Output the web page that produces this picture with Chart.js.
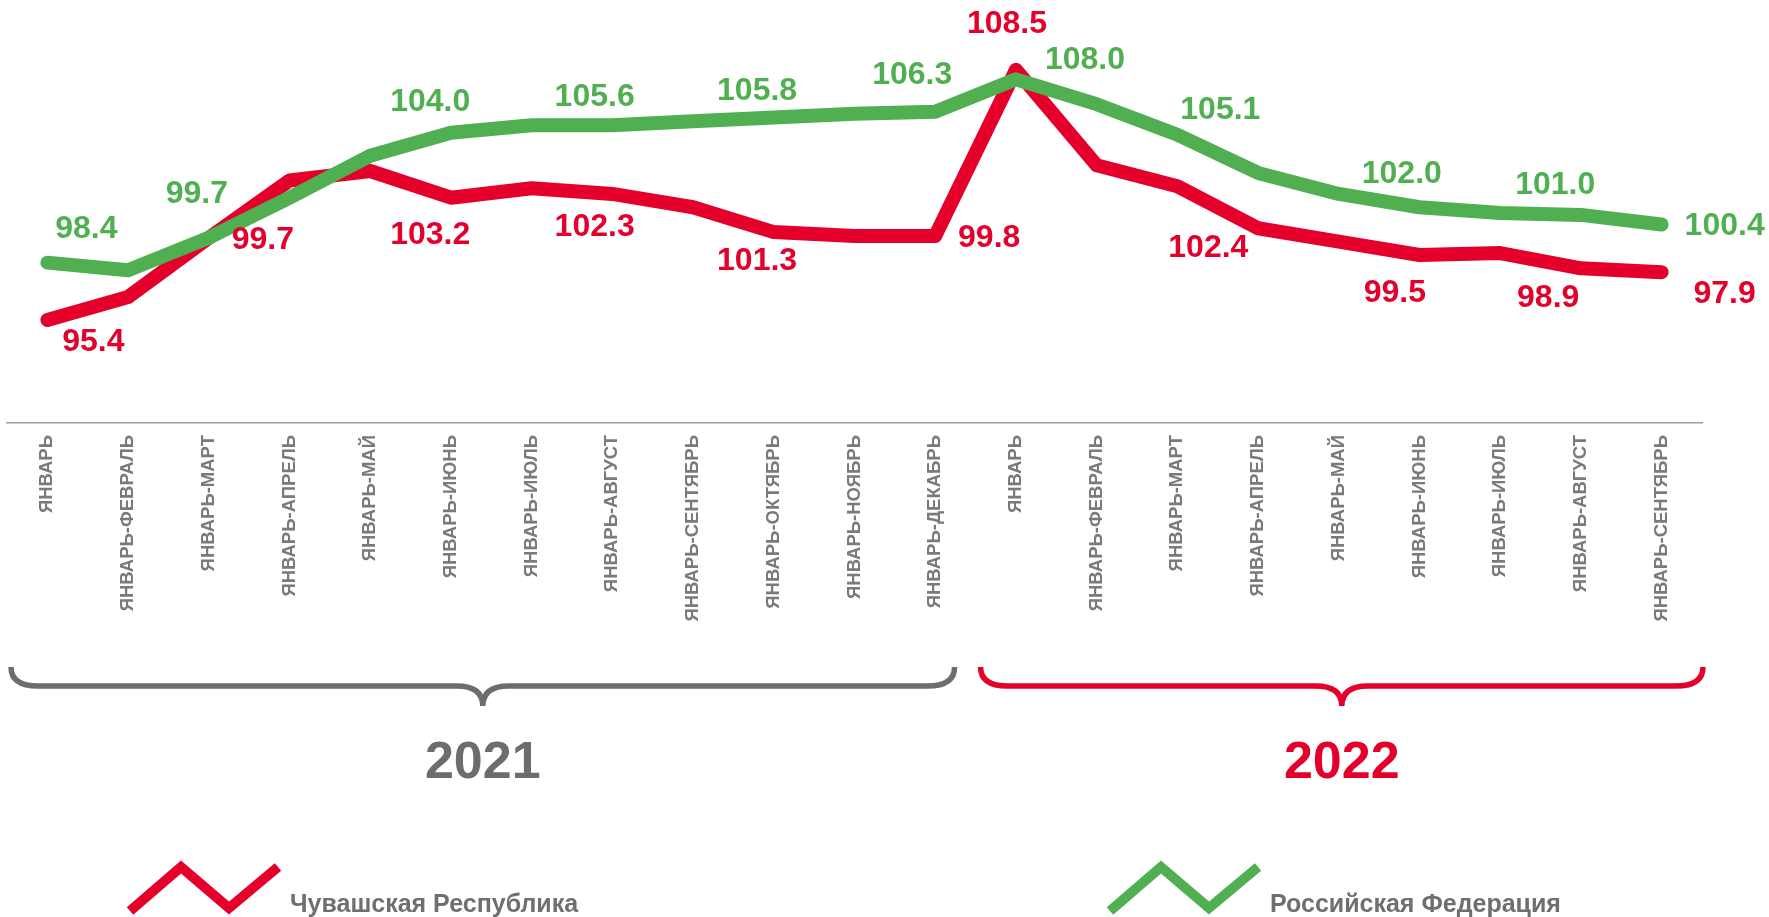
<!DOCTYPE html>
<html lang="ru">
<head>
<meta charset="utf-8">
<title>Индекс промышленного производства</title>
<script src="https://cdn.jsdelivr.net/npm/chart.js@4/dist/chart.umd.min.js"></script>
<style>
  html, body { margin: 0; padding: 0; background: #fff; }
  canvas { display: block; }
</style>
</head>
<body>
<canvas id="chart1" width="1769" height="917"></canvas>
<script>
// периоды (нарастающим итогом)
const periods = [
  'ЯНВАРЬ', 'ЯНВАРЬ-ФЕВРАЛЬ', 'ЯНВАРЬ-МАРТ', 'ЯНВАРЬ-АПРЕЛЬ', 'ЯНВАРЬ-МАЙ', 'ЯНВАРЬ-ИЮНЬ',
  'ЯНВАРЬ-ИЮЛЬ', 'ЯНВАРЬ-АВГУСТ', 'ЯНВАРЬ-СЕНТЯБРЬ', 'ЯНВАРЬ-ОКТЯБРЬ', 'ЯНВАРЬ-НОЯБРЬ', 'ЯНВАРЬ-ДЕКАБРЬ',
  'ЯНВАРЬ', 'ЯНВАРЬ-ФЕВРАЛЬ', 'ЯНВАРЬ-МАРТ', 'ЯНВАРЬ-АПРЕЛЬ', 'ЯНВАРЬ-МАЙ', 'ЯНВАРЬ-ИЮНЬ',
  'ЯНВАРЬ-ИЮЛЬ', 'ЯНВАРЬ-АВГУСТ', 'ЯНВАРЬ-СЕНТЯБРЬ'
];
const years = ['2021', '2022'];
const yearFirst = [0, 12];   // индекс первого периода каждого года
const yearLast = [11, 20];

const chuvashia = [95.4, 96.6, 99.7, 102.7, 103.2, 101.8, 102.3, 102.0, 101.3, 100.0, 99.8, 99.8,
                   108.5, 103.5, 102.4, 100.2, 99.5, 98.8, 98.9, 98.1, 97.9];
const russia = [98.4, 98.0, 99.7, 101.8, 104.0, 105.2, 105.6, 105.6, 105.8, 106.0, 106.2, 106.3,
                108.0, 106.7, 105.1, 103.1, 102.0, 101.3, 101.0, 100.9, 100.4];

// точки с подписями значений
const labelIndex = [0, 2, 4, 6, 8, 11, 12, 14, 16, 18, 20];

const RED = '#E4002B';
const GREEN = '#50AF50';
const GREY = '#7a7a7a';
const FONT = '"Liberation Sans", Arial, sans-serif';

// сдвиги подписей относительно точек (px)
const labelShift = [
  [[46, 22], [54, 2], [60, 64], [63, 39], [64, 54], [54, 2], [-9, -46], [31, 62], [56, 52], [48, 45], [63, 22]],
  [[39, -33], [-12, -44], [60, -54], [63, -28], [64, -30], [-23, -37], [69, -19], [43, -25], [63, -20], [55, -28], [63, 2]]
];

const valueLabels = {
  id: 'valueLabels',
  afterDatasetsDraw(chart) {
    const ctx = chart.ctx;
    ctx.save();
    ctx.font = 'bold 32px ' + FONT;
    ctx.textAlign = 'center';
    ctx.textBaseline = 'middle';
    chart.data.datasets.forEach((ds, d) => {
      const meta = chart.getDatasetMeta(d);
      ctx.fillStyle = ds.borderColor;
      labelIndex.forEach((i, k) => {
        const pt = meta.data[i];
        const s = labelShift[d][k];
        ctx.fillText(ds.data[i].toFixed(1), pt.x + s[0], pt.y + s[1]);
      });
    });
    ctx.restore();
  }
};

function drawBrace(ctx, x0, x1, yTop, yMid, yTip) {
  const xc = (x0 + x1) / 2;
  ctx.beginPath();
  ctx.moveTo(x0, yTop);
  ctx.quadraticCurveTo(x0, yMid, x0 + 27, yMid);
  ctx.lineTo(xc - 26, yMid);
  ctx.quadraticCurveTo(xc, yMid, xc, yTip);
  ctx.quadraticCurveTo(xc, yMid, xc + 26, yMid);
  ctx.lineTo(x1 - 27, yMid);
  ctx.quadraticCurveTo(x1, yMid, x1, yTop);
  ctx.stroke();
}

const yearsAndLegend = {
  id: 'yearsAndLegend',
  afterDraw(chart) {
    const ctx = chart.ctx;
    const x = chart.scales.x;
    const area = chart.chartArea;
    const half = (x.getPixelForValue(1) - x.getPixelForValue(0)) / 2;
    const spans = [
      [area.left + 4, x.getPixelForValue(yearLast[0]) + half - 21],
      [x.getPixelForValue(yearFirst[1]) - half + 5, area.right + 1]
    ];
    const yearColors = ['#6d6d6d', RED];
    ctx.save();
    ctx.lineWidth = 5.5;
    ctx.lineCap = 'butt';
    spans.forEach((sp, k) => {
      ctx.strokeStyle = yearColors[k];
      drawBrace(ctx, sp[0], sp[1], 667, 686, 706);
      ctx.fillStyle = yearColors[k];
      ctx.font = 'bold 52px ' + FONT;
      ctx.textAlign = 'center';
      ctx.textBaseline = 'alphabetic';
      ctx.fillText(years[k], (sp[0] + sp[1]) / 2, 778);
    });

    // легенда
    const legendX = [130, 1110];
    chart.data.datasets.forEach((ds, d) => {
      const lx = legendX[d];
      ctx.strokeStyle = ds.borderColor;
      ctx.lineWidth = 10;
      ctx.lineJoin = 'miter';
      ctx.beginPath();
      ctx.moveTo(lx, 911);
      ctx.lineTo(lx + 51, 867);
      ctx.lineTo(lx + 99, 908);
      ctx.lineTo(lx + 148, 867);
      ctx.stroke();
      ctx.fillStyle = '#6f6f6f';
      ctx.font = 'bold 25px ' + FONT;
      ctx.textAlign = 'left';
      ctx.fillText(ds.label, lx + 160, 912);
    });
    ctx.restore();
  }
};

new Chart(document.getElementById('chart1'), {
  type: 'line',
  data: {
    labels: periods,
    datasets: [{
      label: 'Чувашская Республика',
      data: chuvashia,
      borderColor: RED,
      backgroundColor: RED,
      borderWidth: 14,
      order: 2
    }, {
      label: 'Российская Федерация',
      data: russia,
      borderColor: GREEN,
      backgroundColor: GREEN,
      borderWidth: 14,
      order: 1
    }]
  },
  options: {
    responsive: false,
    animation: false,
    layout: { padding: { left: 7, right: 67, top: 3, bottom: 0 } },
    elements: {
      point: { radius: 0 },
      line: { tension: 0, borderCapStyle: 'round', borderJoinStyle: 'round' }
    },
    plugins: {
      legend: { display: false },
      tooltip: { enabled: false }
    },
    scales: {
      x: {
        offset: true,
        grid: { display: false, drawTicks: false },
        border: { display: true, color: '#a0a0a0', width: 1.5 },
        ticks: {
          autoSkip: false,
          minRotation: 90,
          maxRotation: 90,
          padding: 12,
          color: GREY,
          font: { family: FONT, size: 18.5, weight: 'bold' }
        },
        afterFit(axis) { axis.height = 494; }
      },
      y: {
        display: false,
        min: 90,
        max: 112
      }
    }
  },
  plugins: [valueLabels, yearsAndLegend]
});
</script>
</body>
</html>
